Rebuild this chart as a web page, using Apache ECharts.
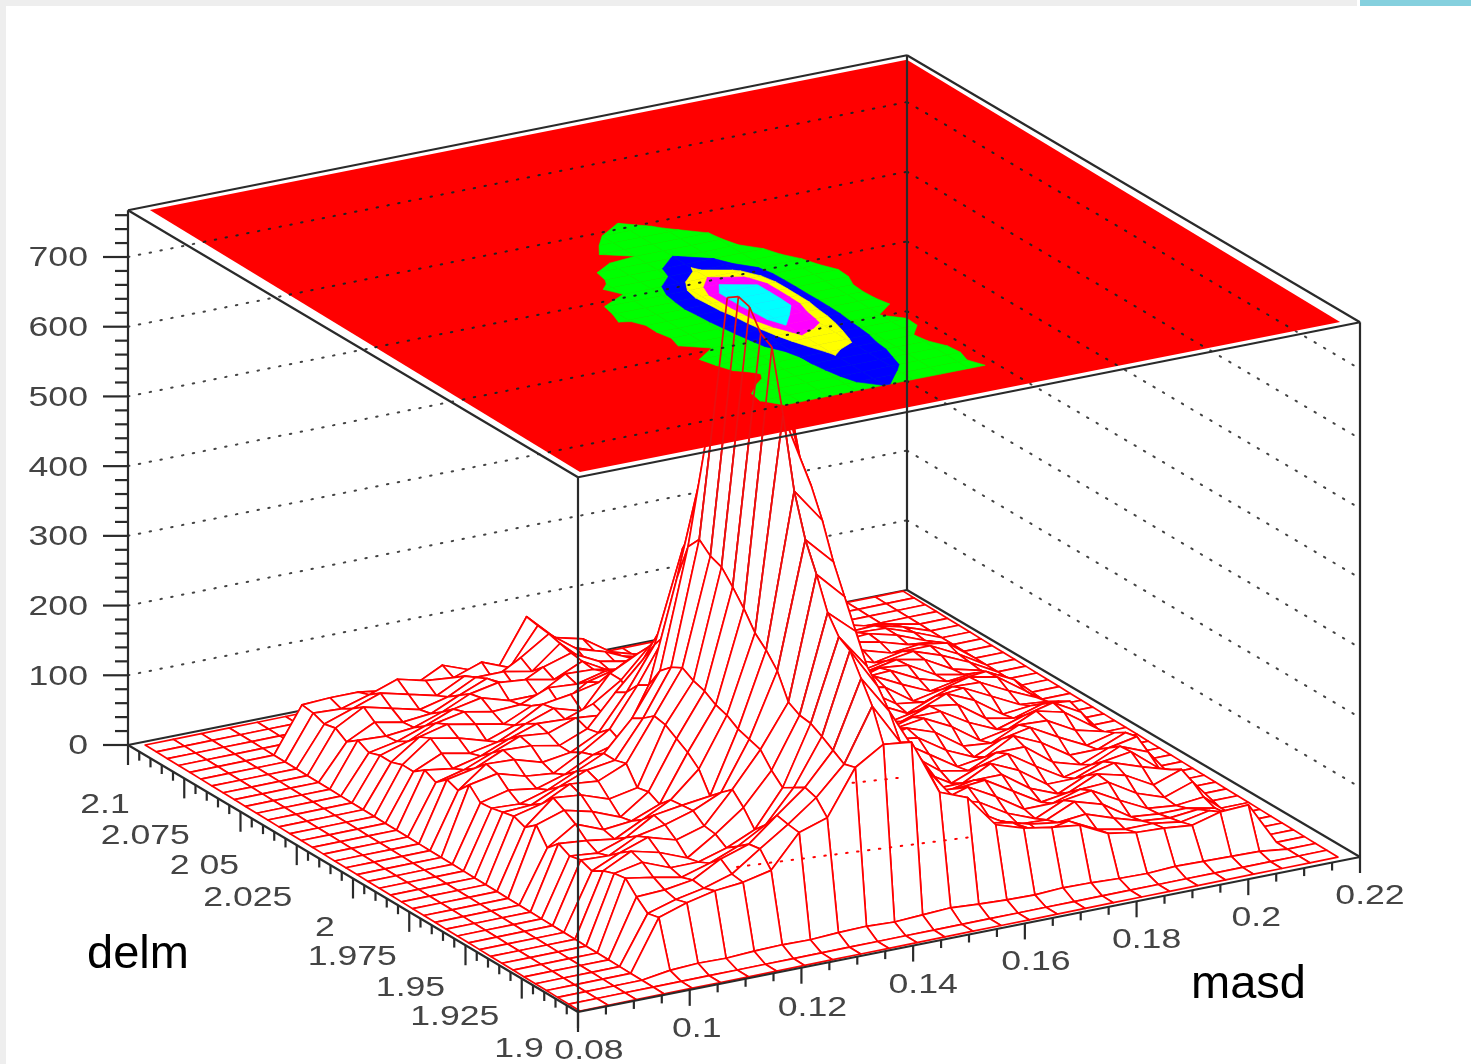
<!DOCTYPE html>
<html><head><meta charset="utf-8">
<style>html,body{margin:0;padding:0;background:#fff}#c{width:1471px;height:1064px}</style>
<script src="https://cdn.jsdelivr.net/npm/echarts@6/dist/echarts.min.js"></script>
</head><body><div id="c"></div>
<script>
// ---- data ----
const masdMajor=[0.08,0.1,0.12,0.14,0.16,0.18,0.2,0.22];
const masdLabels=['0.08','0.1','0.12','0.14','0.16','0.18','0.2','0.22'];
const delmMajor=[2.1,2.075,2.05,2.025,2,1.975,1.95,1.925,1.9];
const delmLabels=['2.1','2.075','2 05','2.025','2','1.975','1.95','1.925','1.9'];
const countMajor=[0,100,200,300,400,500,600,700];
const contourLevels=[127,254,381,508,635];
const contourColors=['#00ff00','#0000ff','#ffff00','#ff00ff','#00ffff'];
// counts per bin: rows are delm bins (1.9025 upward), columns masd bins (0.0825 upward)
const counts=[
[0,0,0,0,0,0,0,0,0,0,0,0,0,0,0,0,0,0,0,0,0,0,0,0,0,0,0,0],
[0,0,0,0,0,0,0,0,0,0,0,0,0,0,0,0,0,0,0,0,0,0,0,0,0,0,0,0],
[0,0,0,0,6,8,7,9,10,9,11,12,10,12,14,11,9,8,10,9,7,6,8,7,6,5,0,0],
[0,0,0,0,72,85,94,98,107,153,166,230,255,250,170,154,107,94,87,82,62,55,53,49,60,62,0,0],
[0,0,0,0,68,80,88,100,128,155,185,225,300,240,190,140,100,92,70,78,58,50,50,44,52,35,0,0],
[0,0,0,0,82,84,90,112,125,158,190,235,330,275,205,145,108,84,72,66,70,56,44,40,44,30,0,0],
[0,0,0,0,99,92,84,96,112,135,180,245,360,300,200,135,116,78,62,60,78,66,40,36,36,28,0,0],
[0,0,0,0,96,104,88,88,100,118,170,254,370,320,215,130,104,92,68,52,70,76,54,34,30,34,0,0],
[0,0,0,0,90,110,100,84,110,140,185,256,395,360,205,127,92,104,82,56,56,68,70,46,32,46,0,0],
[0,0,0,0,80,98,112,100,112,156,205,265,440,400,220,160,96,92,96,72,48,54,72,62,40,54,0,0],
[0,0,0,0,86,84,104,112,124,142,210,300,480,440,225,150,108,78,86,86,58,42,60,70,56,44,0,0],
[0,0,0,0,82,78,92,116,122,127,215,320,540,490,230,125,118,72,72,92,74,46,46,62,68,36,0,0],
[0,0,0,0,90,86,80,100,120,156,225,335,640,530,245,165,112,86,62,78,88,62,38,48,66,50,0,0],
[0,0,0,0,74,100,84,88,104,170,230,360,727,560,248,170,98,100,70,62,80,80,50,38,54,62,0,0],
[0,0,0,0,97,110,100,84,112,180,240,381,737,635,248,172,92,110,84,58,64,86,68,42,42,58,0,0],
[0,0,0,0,84,118,114,100,108,190,245,400,765,650,240,168,100,104,98,72,54,72,80,58,38,48,0,0],
[0,0,0,0,90,100,120,116,133,193,254,406,770,650,240,172,118,92,102,88,60,56,74,72,50,40,0,0],
[0,0,0,0,86,88,106,122,128,180,245,420,759,645,235,160,122,84,92,98,78,50,58,76,66,38,0,0],
[0,0,0,0,82,80,92,110,128,170,230,400,630,540,232,150,110,96,78,90,90,66,48,60,70,48,0,0],
[0,0,0,0,80,90,84,96,116,127,200,345,510,420,215,145,96,108,76,74,88,82,54,46,58,54,0,0],
[0,0,0,0,96,104,92,88,110,135,190,254,400,285,185,127,90,102,90,64,72,88,70,42,46,44,0,0],
[0,0,0,0,78,108,106,94,100,120,170,230,360,254,160,118,104,86,96,78,58,74,78,58,38,34,0,0],
[0,0,0,0,84,92,110,108,100,116,160,200,262,215,135,106,110,76,84,88,62,56,70,68,48,30,0,0],
[0,0,0,0,70,80,96,112,108,122,118,127,215,175,130,100,96,80,68,84,76,48,56,66,58,30,0,0],
[0,0,0,0,78,72,82,98,112,110,124,150,190,160,127,92,80,88,60,70,82,62,44,52,56,36,0,0],
[0,0,0,0,66,84,76,84,102,116,104,150,170,135,112,98,72,84,70,56,70,72,52,40,44,32,0,0],
[0,0,0,0,66,96,88,76,90,112,118,127,150,120,96,82,80,68,78,56,54,66,62,40,32,24,0,0],
[0,0,0,0,60,88,98,90,82,100,94,118,128,110,104,90,84,58,70,66,48,52,60,52,30,20,0,0],
[0,0,0,0,60,72,90,98,90,92,108,105,115,98,86,74,72,62,56,68,56,40,48,54,40,22,0,0],
[0,0,0,0,54,62,76,92,100,88,88,110,108,100,92,80,60,72,52,54,58,50,36,44,44,24,0,0],
[0,0,0,0,62,60,64,78,96,104,100,92,110,88,80,66,56,64,62,44,48,54,44,32,36,30,0,0],
[0,0,0,0,50,70,62,66,84,100,80,100,112,92,84,70,62,50,56,54,38,44,46,38,26,22,0,0],
[0,0,0,0,60,82,72,62,72,92,92,84,116,80,72,58,66,52,44,52,46,34,38,40,30,14,0,0],
[0,0,0,0,56,70,84,74,64,84,72,94,120,90,78,60,54,58,44,40,46,42,28,32,30,16,0,0],
[0,0,0,0,62,60,72,86,76,72,86,70,122,84,70,54,44,52,50,36,36,40,34,22,24,14,0,0],
[0,0,0,0,64,66,66,60,60,80,65,61,125,87,77,50,38,34,44,40,30,30,32,24,14,8,0,0],
[0,0,0,0,0,0,0,0,0,0,0,0,0,0,0,0,0,0,0,0,0,0,0,0,0,0,0,0],
[0,0,0,0,0,0,0,0,0,0,0,0,0,0,0,0,0,0,0,0,0,0,0,0,0,0,0,0],
[0,0,0,0,0,0,0,0,0,0,0,0,0,0,0,0,0,0,0,0,0,0,0,0,0,0,0,0],
[0,0,0,0,0,0,0,0,0,0,0,0,0,0,0,0,0,0,0,0,0,0,0,0,0,0,0,0]
];
const redDots=[[[0.1342,1.9637],[0.1721,1.9545]],[[0.1688,1.998],[0.1773,1.9953]]];

// ---- layout of the 3D view (parallel projection) ----
const nI=counts[0].length,nJ=counts.length;
const zScale=488/700, zTop=767, contourFirstRow=3;
function box(m,d,z){const mi=(m-0.08)/0.14,di=(d-1.9)/0.2;
  return [578+782*mi-450*di-3*mi*di,1012-155*mi-267*di-z*zScale];}
function mesh(i,j,z){return [580+28.07*i-11.15*j,1011-5.70*i-6.82*j-z*zScale];}
function plane(i,j){return [580+28.15*i-11.03*j-3*(i/27)*(j/39),472-5.56*i-6.72*j];}
const INK='#2a2a2a',RED='#ff0000',TXT='#444444';

function lineEl(a,b,stroke,w,dash){return{type:'line',silent:true,
  shape:{x1:a[0],y1:a[1],x2:b[0],y2:b[1]},
  style:{stroke,lineWidth:w,lineDash:dash||null,lineCap:dash?'round':'butt',fill:null}};}
function segSeries(name,z,segs,stroke,w,dash){
  return{type:'custom',name,coordinateSystem:'cartesian2d',clip:false,z,silent:true,progressive:0,animation:false,
    data:segs.map((s,k)=>[k]),encode:{x:0,y:0},
    renderItem(p,api){const s=segs[p.dataIndex];
      return lineEl(api.coord(s[0]),api.coord(s[1]),stroke,w,dash);}};}

// back-wall count grid
const wallSegs=[];
countMajor.slice(1).forEach(c=>{
  wallSegs.push([box(0.08,2.1,c),box(0.22,2.1,c)]);
  wallSegs.push([box(0.22,2.1,c),box(0.22,1.9,c)]);
});
// part of each wall grid line that passes over the contour plane
const pc=[plane(0,0),plane(nI-1,0),plane(nI-1,nJ-1),plane(0,nJ-1)];
function inPlane(p){let s=0;for(let k=0;k<4;k++){const a=pc[k],b=pc[(k+1)%4];
  const c=(b[0]-a[0])*(p[1]-a[1])-(b[1]-a[1])*(p[0]-a[0]);
  if(c!==0){if(s===0)s=Math.sign(c);else if(s!==Math.sign(c))return false;}}return true;}
const overSegs=[];
wallSegs.forEach(s=>{let t0=null,t1=null;
  for(let k=0;k<=400;k++){const t=k/400,p=[s[0][0]+(s[1][0]-s[0][0])*t,s[0][1]+(s[1][1]-s[0][1])*t];
    if(inPlane(p)){if(t0===null)t0=t;t1=t;}}
  if(t0!==null)overSegs.push([[s[0][0]+(s[1][0]-s[0][0])*t0,s[0][1]+(s[1][1]-s[0][1])*t0],
                              [s[0][0]+(s[1][0]-s[0][0])*t1,s[0][1]+(s[1][1]-s[0][1])*t1]]);});

// surface cells, far ones first
const cells=[];
for(let j=nJ-2;j>=0;j--)for(let i=nI-2;i>=0;i--)cells.push([i,j]);
const surface={type:'custom',name:'surface',coordinateSystem:'cartesian2d',clip:false,z:3,silent:true,progressive:0,animation:false,
  data:cells,encode:{x:0,y:1},
  renderItem(p,api){const i=api.value(0),j=api.value(1);
    const pts=[[i,j],[i+1,j],[i+1,j+1],[i,j+1]].map(q=>api.coord(mesh(q[0],q[1],counts[q[1]][q[0]])));
    return{type:'polygon',silent:true,shape:{points:pts},style:{fill:'#ffffff',stroke:RED,lineWidth:1.7,lineJoin:'round'}};}};

// contour bands on the top plane, built from the same counts
function clipLevel(poly,l){const out=[];for(let k=0;k<poly.length;k++){const a=poly[k],b=poly[(k+1)%poly.length];
  if(a[2]>=l)out.push(a);
  if((a[2]>=l)!==(b[2]>=l)){const t=(l-a[2])/(b[2]-a[2]);
    out.push([a[0]+(b[0]-a[0])*t,a[1]+(b[1]-a[1])*t,l]);}}return out;}
const bandCells=[];
contourLevels.forEach((l,n)=>{for(let j=contourFirstRow;j<nJ-1;j++)for(let i=0;i<nI-1;i++){
  const m=Math.max(counts[j][i],counts[j][i+1],counts[j+1][i],counts[j+1][i+1]);
  if(m>=l)bandCells.push([i,j,n]);}});
const bands={type:'custom',name:'contours',coordinateSystem:'cartesian2d',clip:false,z:5,silent:true,progressive:0,animation:false,
  data:bandCells,encode:{x:0,y:1},
  renderItem(p,api){const i=api.value(0),j=api.value(1),n=api.value(2);
    const q=[[i,j],[i+1,j],[i+1,j+1],[i,j+1]].map(c=>[c[0],c[1],counts[c[1]][c[0]]]);
    const r=clipLevel(q,contourLevels[n]);
    if(r.length<3)return null;
    return{type:'polygon',silent:true,shape:{points:r.map(c=>api.coord(plane(c[0],c[1])))},
      style:{fill:contourColors[n],stroke:contourColors[n],lineWidth:0.6}};}};
const planeS={type:'custom',name:'plane',coordinateSystem:'cartesian2d',clip:false,z:4,silent:true,progressive:0,animation:false,
  data:[[0]],encode:{x:0,y:0},
  renderItem(p,api){return{type:'polygon',silent:true,shape:{points:pc.map(q=>api.coord(q))},style:{fill:RED}};}};

// peak lines seen over the plane
const peakSegs=[];
for(let j=4;j<=17;j++)peakSegs.push([mesh(11,j,counts[j][11]),mesh(12,j,counts[j][12])]);
for(let j=9;j<=16;j++)peakSegs.push([mesh(12,j,counts[j][12]),mesh(12,j+1,counts[j+1][12])]);

// axes
const boxBack=[
 [box(0.08,2.1,0),box(0.22,2.1,0)],[box(0.22,2.1,0),box(0.22,1.9,0)]];
const boxFront=[
 [box(0.08,1.9,0),box(0.08,2.1,0)],[box(0.08,1.9,0),box(0.22,1.9,0)],
 [box(0.08,2.1,0),box(0.08,2.1,zTop)],[box(0.08,1.9,0),box(0.08,1.9,zTop)],
 [box(0.22,1.9,0),box(0.22,1.9,zTop)],[box(0.22,2.1,0),box(0.22,2.1,zTop)],
 [box(0.08,2.1,zTop),box(0.22,2.1,zTop)],[box(0.22,2.1,zTop),box(0.22,1.9,zTop)],
 [box(0.22,1.9,zTop),box(0.08,1.9,zTop)],[box(0.08,1.9,zTop),box(0.08,2.1,zTop)]];
const ticks=[];
for(let k=0;k<=38;k++){const c=k*20,L=k%5===0?25:13,a=box(0.08,2.1,c);ticks.push([a,[a[0]-L,a[1]]]);}
for(let k=0;k<=40;k++){const d=1.9+k*0.005,L=k%5===0?20:9,a=box(0.08,d,0);ticks.push([a,[a[0],a[1]+L]]);}
for(let k=0;k<=28;k++){const m=0.08+k*0.005,L=k%4===0?16:8,a=box(m,1.9,0);ticks.push([a,[a[0],a[1]+L]]);}

// tick label placement relative to the tick
const delmOffset=[[-23,61],[-39,58],[-36,55],[-49,53],[-28,50],[-57,46],[-55,43],[-67,39],[-59,38]];
const masdOffset=[[11,40],[7,40],[11,41],[10,40],[11,39],[10,39],[8,39],[10,40]];
const texts=[];
countMajor.forEach(c=>{const a=box(0.08,2.1,c);texts.push({t:String(c),x:88,y:a[1]+2,al:'right'});});
delmMajor.forEach((d,k)=>{const a=box(0.08,d,0);texts.push({t:delmLabels[k],x:a[0]+delmOffset[k][0],y:a[1]+delmOffset[k][1],al:'center'});});
masdMajor.forEach((m,k)=>{const a=box(m,1.9,0);texts.push({t:masdLabels[k],x:a[0]+masdOffset[k][0],y:a[1]+masdOffset[k][1],al:'center'});});
const labelS={type:'custom',name:'labels',coordinateSystem:'cartesian2d',clip:false,z:9,silent:true,progressive:0,animation:false,
  data:texts.map((t,k)=>[k]),encode:{x:0,y:0},
  renderItem(p,api){const t=texts[p.dataIndex],c=api.coord([t.x,t.y]);
    return{type:'text',silent:true,x:c[0],y:c[1],scaleX:1.32,
      style:{x:0,y:0,text:t.t,fill:TXT,font:'27px "Liberation Sans"',align:t.al,verticalAlign:'middle'}};}};

const option={animation:false,backgroundColor:'#ffffff',
 grid:{left:0,right:0,top:0,bottom:0,containLabel:false},
 xAxis:{type:'value',min:0,max:1471,show:false},
 yAxis:{type:'value',min:0,max:1064,inverse:true,show:false},
 series:[
  segSeries('wall grid',1,wallSegs,'#444444',2,[1.5,9.5]),
  segSeries('floor back edges',2,boxBack,INK,2.2),
  surface,
  planeS,bands,
  segSeries('peak',6,peakSegs,'#e81010',1.7),
  segSeries('wall grid over plane',7,overSegs,'#222222',2,[1.5,9.5]),
  segSeries('red dots',7,redDots.map(s=>[box(s[0][0],s[0][1],0),box(s[1][0],s[1][1],0)]),RED,2,[1.5,9.5]),
  segSeries('box',8,boxFront,INK,2.2),
  segSeries('ticks',8,ticks,INK,2.2),
  labelS
 ],
 graphic:[
  {type:'rect',shape:{x:0,y:0,width:6,height:1064},style:{fill:'#eeeeee'},z:20,silent:true},
  {type:'rect',shape:{x:0,y:0,width:1357,height:6},style:{fill:'#eeeeee'},z:20,silent:true},
  {type:'rect',shape:{x:1360,y:0,width:111,height:6},style:{fill:'#85d0de'},z:20,silent:true},
  {type:'text',x:87,y:955,style:{text:'delm',fill:'#000',font:'47px "Liberation Sans"',verticalAlign:'middle'},z:20,silent:true},
  {type:'text',x:1191,y:985,style:{text:'masd',fill:'#000',font:'47px "Liberation Sans"',verticalAlign:'middle'},z:20,silent:true}
 ]};
echarts.init(document.getElementById('c'),null,{renderer:'canvas'}).setOption(option);
</script></body></html>
